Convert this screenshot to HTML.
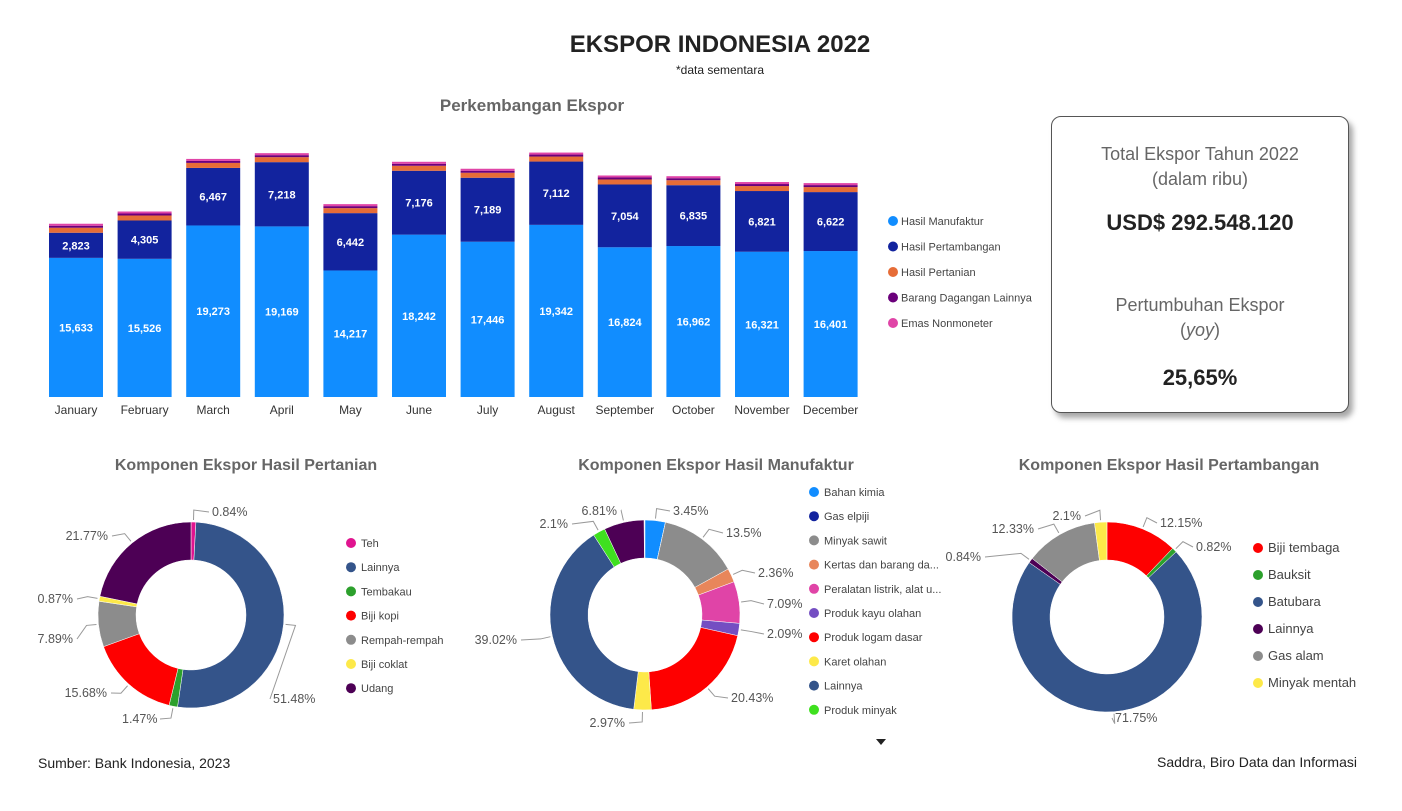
<!DOCTYPE html>
<html><head><meta charset="utf-8"><style>
body{margin:0;width:1402px;height:811px;background:#fff;overflow:hidden;font-family:"Liberation Sans",sans-serif;}
svg{position:absolute;left:0;top:0}
.card{position:absolute;left:1051px;top:116px;width:296px;height:295px;border:1px solid #555;border-radius:10px;box-shadow:4px 5px 6px rgba(0,0,0,.35);background:#fff;text-align:center;color:#666;}
</style></head><body>
<svg id="s" width="1402" height="811" xmlns="http://www.w3.org/2000/svg"></svg>
<div class="card">
<div style="position:absolute;top:25px;width:100%;font-size:18px;line-height:25px">Total Ekspor Tahun 2022<br>(dalam ribu)</div>
<div style="position:absolute;top:93px;width:100%;font-size:22px;font-weight:bold;color:#222">USD$ 292.548.120</div>
<div style="position:absolute;top:176px;width:100%;font-size:18px;line-height:25px">Pertumbuhan Ekspor<br>(<i>yoy</i>)</div>
<div style="position:absolute;top:248px;width:100%;font-size:22px;font-weight:bold;color:#222">25,65%</div>
</div>
<script>
const S=document.getElementById('s');let h='';
function t(x,y,s,o){o=o||{};h+=`<text x="${x}" y="${y}" font-size="${o.fs||12}" fill="${o.c||'#555'}" text-anchor="${o.a||'start'}" font-weight="${o.w||'normal'}" font-family="Liberation Sans, sans-serif">${s}</text>`;}
t(720,52,'EKSPOR INDONESIA 2022',{fs:24,w:'bold',c:'#222',a:'middle'});
t(720,74,'*data sementara',{fs:12,c:'#222',a:'middle'});
t(532,111,'Perkembangan Ekspor',{fs:17,w:'bold',c:'#666',a:'middle'});
const m=['January','February','March','April','May','June','July','August','September','October','November','December'];
const a=[15633,15526,19273,19169,14217,18242,17446,19342,16824,16962,16321,16401];
const b=[2823,4305,6467,7218,6442,7176,7189,7112,7054,6835,6821,6622];
const k=0.0089,base=397;
for(let i=0;i<12;i++){const x=49+i*68.6,w=54;let y=base;
const ha=a[i]*k,hb=b[i]*k;
h+=`<rect x="${x}" y="${y-ha}" width="${w}" height="${ha}" fill="#118dff"/>`;
t(x+w/2,y-ha/2+4,a[i].toLocaleString('en-US'),{fs:11,w:'bold',c:'#fff',a:'middle'});y-=ha;
h+=`<rect x="${x}" y="${y-hb}" width="${w}" height="${hb}" fill="#12239e"/>`;
t(x+w/2,y-hb/2+4,b[i].toLocaleString('en-US'),{fs:11,w:'bold',c:'#fff',a:'middle'});y-=hb;
h+=`<rect x="${x}" y="${y-5}" width="${w}" height="5" fill="#e66c37"/>`;y-=5;
h+=`<rect x="${x}" y="${y-2}" width="${w}" height="2" fill="#6b007b"/>`;y-=2;
h+=`<rect x="${x}" y="${y-2}" width="${w}" height="2" fill="#e044a7"/>`;
t(x+w/2,414,m[i],{fs:12,c:'#333',a:'middle'});}
[['#118dff','Hasil Manufaktur'],['#12239e','Hasil Pertambangan'],['#e66c37','Hasil Pertanian'],['#6b007b','Barang Dagangan Lainnya'],['#e044a7','Emas Nonmoneter']].forEach((l,i)=>{const y=221+i*25.5;h+=`<circle cx="893" cy="${y}" r="5" fill="${l[0]}"/>`;t(901,y+4,l[1],{fs:11,c:'#444'});});
function donut(cx,cy,R,r,data){let ang=0;data.forEach(d=>{const a0=ang,a1=ang+d[0]/100*2*Math.PI;ang=a1;
const p=(a,rr)=>[cx+rr*Math.sin(a),cy-rr*Math.cos(a)];const l=(a1-a0)>Math.PI?1:0;
const [x0,y0]=p(a0,R),[x1,y1]=p(a1,R),[x2,y2]=p(a1,r),[x3,y3]=p(a0,r);
h+=`<path d="M${x0},${y0}A${R},${R} 0 ${l} 1 ${x1},${y1}L${x2},${y2}A${r},${r} 0 ${l} 0 ${x3},${y3}Z" fill="${d[1]}" stroke="#fff" stroke-width="0.5"/>`;
if(d[2]){const am=(a0+a1)/2;const [ex,ey]=p(am,R+2);const [fx,fy]=p(am,R+12);const tx=d[2][0],ty=d[2][1]-4;
h+=`<polyline points="${ex},${ey} ${fx},${fy} ${tx},${ty}" fill="none" stroke="#999" stroke-width="1"/>`;}});}
t(246,470,'Komponen Ekspor Hasil Pertanian',{fs:16,w:'bold',c:'#666',a:'middle'});
t(716,470,'Komponen Ekspor Hasil Manufaktur',{fs:16,w:'bold',c:'#666',a:'middle'});
t(1169,470,'Komponen Ekspor Hasil Pertambangan',{fs:16,w:'bold',c:'#666',a:'middle'});
donut(191,615,93,55,[[0.84,'#e0148f',[209,516]],[51.48,'#34548a',[270,703]],[1.47,'#2ca02c',[160,723]],[15.68,'#fe0000',[111,697]],[7.89,'#8c8c8c',[77,643]],[0.87,'#fde949',[77,603]],[21.77,'#4d0055',[112,540]]]);
donut(645,615,95,57,[[3.45,'#118dff',[670,515]],[0.01,'#12239e'],[13.5,'#8c8c8c',[723,537]],[2.36,'#e8865b',[755,577]],[7.09,'#e044a7',[764,608]],[2.09,'#744ec2',[764,638]],[20.43,'#fe0000',[728,702]],[2.97,'#fde949',[629,727]],[39.02,'#34548a',[521,644]],[2.1,'#3fe01f',[572,528]],[6.81,'#4d0055',[621,515]]]);
donut(1107,617,95,57,[[12.15,'#fe0000',[1157,527]],[0.82,'#2ca02c',[1193,551]],[71.75,'#34548a',[1112,722]],[0.84,'#4d0055',[985,561]],[12.33,'#8c8c8c',[1038,533]],[2.1,'#fde949',[1085,520]]]);
const L=[[212,516,'0.84%','start'],[108,540,'21.77%','end'],[73,603,'0.87%','end'],[73,643,'7.89%','end'],[107,697,'15.68%','end'],[122,723,'1.47%','start'],[273,703,'51.48%','start'],
[617,515,'6.81%','end'],[568,528,'2.1%','end'],[673,515,'3.45%','start'],[726,537,'13.5%','start'],[758,577,'2.36%','start'],[767,608,'7.09%','start'],[767,638,'2.09%','start'],[731,702,'20.43%','start'],[625,727,'2.97%','end'],[517,644,'39.02%','end'],
[1081,520,'2.1%','end'],[1034,533,'12.33%','end'],[981,561,'0.84%','end'],[1160,527,'12.15%','start'],[1196,551,'0.82%','start'],[1115,722,'71.75%','start']];
L.forEach(l=>t(l[0],l[1],l[2],{fs:12.5,c:'#555',a:l[3]}));
function leg(x,y0,st,fs,items){items.forEach((it,i)=>{const y=y0+i*st;h+=`<circle cx="${x}" cy="${y}" r="5" fill="${it[0]}"/>`;t(x+10,y+4,it[1],{fs:fs,c:'#444'});});}
leg(351,543,24.2,11,[['#e0148f','Teh'],['#34548a','Lainnya'],['#2ca02c','Tembakau'],['#fe0000','Biji kopi'],['#8c8c8c','Rempah-rempah'],['#fde949','Biji coklat'],['#4d0055','Udang']]);
leg(814,492,24.2,11,[['#118dff','Bahan kimia'],['#12239e','Gas elpiji'],['#8c8c8c','Minyak sawit'],['#e8865b','Kertas dan barang da...'],['#e044a7','Peralatan listrik, alat u...'],['#744ec2','Produk kayu olahan'],['#fe0000','Produk logam dasar'],['#fde949','Karet olahan'],['#34548a','Lainnya'],['#3fe01f','Produk minyak']]);
leg(1258,548,27,13,[['#fe0000','Biji tembaga'],['#2ca02c','Bauksit'],['#34548a','Batubara'],['#4d0055','Lainnya'],['#8c8c8c','Gas alam'],['#fde949','Minyak mentah']]);
h+=`<path d="M876,739L886,739L881,745Z" fill="#222"/>`;
t(38,768,'Sumber: Bank Indonesia, 2023',{fs:14,c:'#222'});
t(1357,767,'Saddra, Biro Data dan Informasi',{fs:14,c:'#222',a:'end'});
S.innerHTML=h;
</script>
</body></html>
